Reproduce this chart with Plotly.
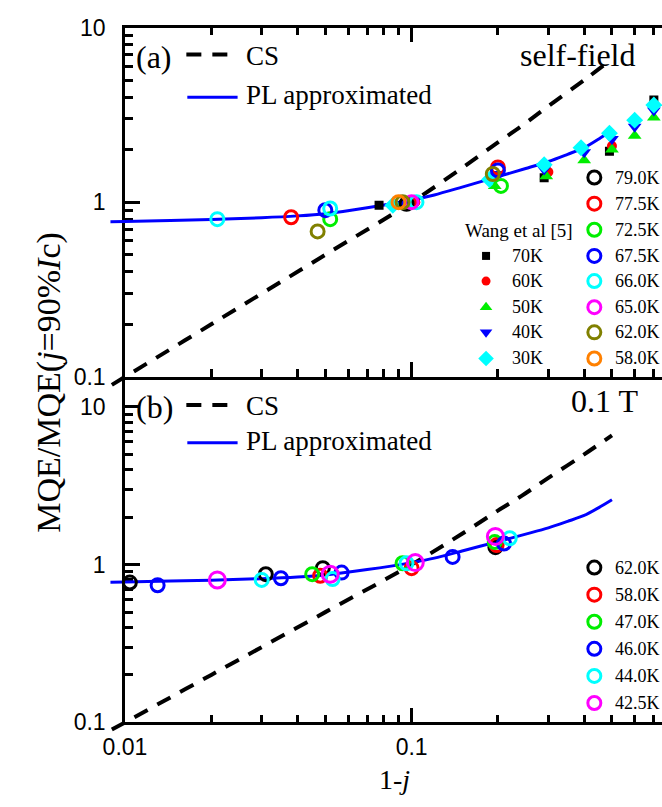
import plotly.graph_objects as go

W, H = 662, 807

# ---------------- data ----------------
# PL approximated curve
pl_x = [0.0089, 0.01, 0.02, 0.03, 0.04, 0.05, 0.07, 0.1, 0.12, 0.15, 0.2, 0.25, 0.3, 0.35, 0.4, 0.45, 0.5]
pl_y = [0.774, 0.776, 0.797, 0.815, 0.835, 0.86, 0.93, 1.03, 1.10, 1.22, 1.40, 1.56, 1.71, 1.88, 2.05, 2.30, 2.58]

# critical-state (CS) curve
cs_x = [0.009, 0.01, 0.02, 0.05, 0.1, 0.15, 0.2, 0.242, 0.3, 0.4, 0.5]
cs_y = [0.09, 0.1, 0.2, 0.5, 1.0, 1.57, 2.2, 2.73, 3.55, 5.0, 6.6]

# Wang et al [5], self-field
wang_labels = ["70K", "60K", "50K", "40K", "30K"]
wang_x = [
    [0.077, 0.29, 0.49, 0.7],
    [0.103, 0.30, 0.50],
    [0.097, 0.195, 0.295, 0.40, 0.50, 0.60, 0.70],
    [0.093, 0.20, 0.29, 0.40, 0.50, 0.60, 0.70],
    [0.086, 0.187, 0.29, 0.39, 0.49, 0.60, 0.70],
]
wang_y = [
    [0.96, 1.38, 1.96, 3.85],
    [1.0, 1.49, 2.1],
    [0.98, 1.24, 1.41, 1.74, 2.0, 2.4, 3.05],
    [0.97, 1.45, 1.54, 1.93, 2.3, 2.7, 3.35],
    [0.96, 1.35, 1.64, 2.05, 2.48, 2.95, 3.6],
]

# own measurements, self-field
sf_labels = ["79.0K", "77.5K", "72.5K", "67.5K", "66.0K", "65.0K", "62.0K", "58.0K"]
sf_x = [
    [0.096],
    [0.038, 0.2],
    [0.052, 0.205],
    [0.050, 0.2],
    [0.021, 0.052, 0.104],
    [0.1],
    [0.047, 0.093, 0.192],
    [0.090],
]
sf_y = [
    [0.98],
    [0.82, 1.58],
    [0.80, 1.24],
    [0.90, 1.52],
    [0.80, 0.92, 1.0],
    [1.0],
    [0.68, 1.0, 1.45],
    [1.0],
]

# own measurements, 0.1 T
b_labels = ["62.0K", "58.0K", "47.0K", "46.0K", "44.0K", "42.5K"]
b_x = [
    [0.0104, 0.031, 0.049, 0.196],
    [0.048, 0.100, 0.198],
    [0.045, 0.093, 0.195],
    [0.013, 0.035, 0.057, 0.139, 0.21],
    [0.030, 0.053, 0.096, 0.22],
    [0.021, 0.052, 0.103, 0.196],
]
b_y = [
    [0.77, 0.87, 0.95, 1.29],
    [0.85, 0.95, 1.33],
    [0.87, 1.02, 1.39],
    [0.74, 0.82, 0.89, 1.12, 1.36],
    [0.80, 0.81, 1.02, 1.47],
    [0.80, 0.87, 1.03, 1.51],
]

y_ticks = [0.1, 1, 10]
y_ticktext = ["0.1", "1", "10"]
x_ticks = [0.01, 0.1]
x_ticktext = ["0.01", "0.1"]
x_minor = [0.02, 0.03, 0.04, 0.05, 0.06, 0.07, 0.08, 0.09, 0.2, 0.3, 0.4, 0.5, 0.6, 0.7]
y_minor = [0.2, 0.3, 0.4, 0.5, 0.6, 0.7, 0.8, 0.9, 2, 3, 4, 5, 6, 7, 8, 9]

# ---------------- styling ----------------
SERIF = "Liberation Serif, Times New Roman, serif"
SANS = "Liberation Sans, Arial, sans-serif"

wang_style = [
    dict(symbol="square", color="black", size=9),
    dict(symbol="circle", color="red", size=10),
    dict(symbol="triangle-up", color="#00ee00", size=12),
    dict(symbol="triangle-down", color="blue", size=12),
    dict(symbol="diamond", color="cyan", size=13),
]
sf_colors = ["black", "red", "#00ee00", "blue", "cyan", "magenta", "#808000", "#ff8000"]
b_colors = ["black", "red", "#00ee00", "blue", "cyan", "magenta"]
b_sizes = [13, 13, 13, 13, 13, 16]

# pixel geometry of the frame
X0, DEC_X = 106.5, 296.5          # x of 1-j = 0.01, pixels per decade
A_TOP, A_BOT = 15, 376            # panel (a): y = 10 .. 0.1
B_TEN, B_BOT = 407, 733           # panel (b): y = 10 .. 0.1
DEC_A = (A_BOT - A_TOP) / 2
DEC_B = (B_BOT - B_TEN) / 2
X_END = -2 + (W - X0) / DEC_X
X_EXT = 88                        # curves run a little past the left axis
Y_EXT = 12


def fy(py):
    return 1 - py / H


fig = go.Figure()

axis_common = dict(
    type="log", showgrid=False, zeroline=False, showline=True, linecolor="black",
    linewidth=2.5, ticks="inside", ticklen=15, tickwidth=2.5, tickcolor="black",
    tickfont=dict(family=SANS, size=23, color="black"),
)
minor_x = dict(tickmode="array", tickvals=x_minor, ticks="inside", ticklen=8,
               tickwidth=2.5, tickcolor="black", showgrid=False)
minor_y = dict(tickmode="array", tickvals=y_minor, ticks="inside", ticklen=8,
               tickwidth=2.5, tickcolor="black", showgrid=False)

fig.update_layout(
    width=W, height=H, margin=dict(l=0, r=0, t=0, b=0),
    paper_bgcolor="white", plot_bgcolor="rgba(0,0,0,0)", showlegend=False,
    xaxis=dict(axis_common, domain=[X0 / W, 1], range=[-2, X_END], anchor="y",
               mirror="ticks", tickmode="array", tickvals=x_ticks,
               showticklabels=False, minor=minor_x),
    yaxis=dict(axis_common, domain=[fy(A_BOT), fy(A_TOP)], range=[-1, 1],
               anchor="x", tickmode="array", tickvals=y_ticks, ticktext=y_ticktext,
               ticklabelstandoff=12, minor=minor_y),
    xaxis2=dict(axis_common, domain=[X0 / W, 1], range=[-2, X_END], anchor="y2",
                tickmode="array", tickvals=x_ticks, ticktext=x_ticktext,
                ticklabelstandoff=2, minor=minor_x),
    yaxis2=dict(axis_common, domain=[fy(B_BOT), fy(A_BOT)],
                range=[-1, 1 + (B_TEN - A_BOT) / DEC_B], anchor="x2",
                tickmode="array", tickvals=y_ticks, ticktext=y_ticktext,
                ticklabelstandoff=12, minor=minor_y),
    # hidden axes with the same scales, slightly wider, for the data
    xaxis3=dict(type="log", visible=False, domain=[X_EXT / W, 1],
                range=[-2 - (X0 - X_EXT) / DEC_X, X_END], anchor="y3"),
    yaxis3=dict(type="log", visible=False, domain=[fy(A_BOT + Y_EXT), fy(A_TOP)],
                range=[-1 - Y_EXT / DEC_A, 1], anchor="x3"),
    xaxis4=dict(type="log", visible=False, domain=[X_EXT / W, 1],
                range=[-2 - (X0 - X_EXT) / DEC_X, X_END], anchor="y4"),
    yaxis4=dict(type="log", visible=False, domain=[fy(B_BOT + Y_EXT), fy(A_BOT)],
                range=[-1 - Y_EXT / DEC_B, 1 + (B_TEN - A_BOT) / DEC_B], anchor="x4"),
    # pixel overlay for the key symbols
    xaxis5=dict(visible=False, domain=[0, 1], range=[0, W], anchor="y5"),
    yaxis5=dict(visible=False, domain=[0, 1], range=[H, 0], anchor="x5"),
)

# keep the frame subplots alive
fig.add_trace(go.Scatter(x=[], y=[], xaxis="x", yaxis="y"))
fig.add_trace(go.Scatter(x=[], y=[], xaxis="x2", yaxis="y2"))

DASH = "15px,11px"

for xa, ya in (("x3", "y3"), ("x4", "y4")):
    fig.add_trace(go.Scatter(x=cs_x, y=cs_y, mode="lines", xaxis=xa, yaxis=ya,
                             line=dict(color="black", width=4, dash=DASH, shape="spline")))
    fig.add_trace(go.Scatter(x=pl_x, y=pl_y, mode="lines", xaxis=xa, yaxis=ya,
                             line=dict(color="blue", width=3, shape="spline", smoothing=0.8)))

# panel (a) data
for lab, xs, ys, st in zip(wang_labels, wang_x, wang_y, wang_style):
    fig.add_trace(go.Scatter(x=xs, y=ys, mode="markers", xaxis="x3", yaxis="y3", name=lab,
                             marker=dict(symbol=st["symbol"], color=st["color"], size=st["size"],
                                         line=dict(width=0))))
for lab, xs, ys, c in zip(sf_labels, sf_x, sf_y, sf_colors):
    fig.add_trace(go.Scatter(x=xs, y=ys, mode="markers", xaxis="x3", yaxis="y3", name=lab,
                             marker=dict(symbol="circle-open", color=c, size=13,
                                         line=dict(width=3, color=c))))

# panel (b) data
for lab, xs, ys, c, s in zip(b_labels, b_x, b_y, b_colors, b_sizes):
    fig.add_trace(go.Scatter(x=xs, y=ys, mode="markers", xaxis="x4", yaxis="y4", name=lab,
                             marker=dict(symbol="circle-open", color=c, size=s,
                                         line=dict(width=3, color=c))))

# ---------------- keys and labels ----------------
ann = []


def text(px, py, s, size, anchor="left", font=SERIF):
    ann.append(dict(x=px / W, y=fy(py), xref="paper", yref="paper", text=s,
                    showarrow=False, xanchor=anchor, yanchor="middle", borderpad=0,
                    font=dict(family=font, size=size, color="black")))


def key_line(x0, x1, py, color, dash=None, width=3):
    fig.add_trace(go.Scatter(x=[x0, x1], y=[py, py], mode="lines", xaxis="x5", yaxis="y5",
                             line=dict(color=color, width=width, dash=dash)))


def key_marker(px, py, symbol, color, size, open_=False):
    if open_:
        m = dict(symbol=symbol, color=color, size=size, line=dict(width=3, color=color))
    else:
        m = dict(symbol=symbol, color=color, size=size, line=dict(width=0))
    fig.add_trace(go.Scatter(x=[px], y=[py], mode="markers", xaxis="x5", yaxis="y5", marker=m))


# panel (a) header
text(117, 45, "(a)", 32)
key_line(170, 218, 43, "black", DASH, 4)
text(231, 44, "CS", 27)
key_line(171, 223, 87, "blue")
text(231, 85, "PL approximated", 27)
text(636, 43, "self-field", 32, anchor="right")

# panel (b) header
text(117, 407, "(b)", 32)
key_line(170, 218, 405, "black", DASH, 4)
text(231, 406, "CS", 27)
key_line(171, 223, 444, "blue")
text(231, 442, "PL approximated", 27)
text(638, 401, "0.1 T", 32, anchor="right")

# panel (a) legends
LEG = 18
rows_a = [170, 197, 224, 251, 277, 304, 330, 357]
for py, lab, c in zip(rows_a, sf_labels, sf_colors):
    key_marker(592, py, "circle-open", c, 13, open_=True)
    text(612, py, lab, LEG)
text(514, 225, "Wang et al [5]", LEG + 1, anchor="center")
for py, lab, st in zip(rows_a[3:], wang_labels, wang_style):
    key_marker(480, py, st["symbol"], st["color"], st["size"] - 1)
    text(506, py, lab, LEG)

# panel (b) legend
rows_b = [573, 601, 629, 657, 685, 713]
for py, lab, c in zip(rows_b, b_labels, b_colors):
    key_marker(592, py, "circle-open", c, 13, open_=True)
    text(612, py, lab, LEG)

# axis titles
ann.append(dict(x=28 / W, y=fy(382), xref="paper", yref="paper",
                text="MQE/MQE(<i>j</i>=90%<i>I</i>c)", textangle=-90, showarrow=False,
                xanchor="center", yanchor="middle",
                font=dict(family=SERIF, size=34, color="black")))
text(385, 792, "1-<i>j</i>", 28, anchor="center")

fig.update_layout(annotations=ann)
fig.write_html("out.html")
